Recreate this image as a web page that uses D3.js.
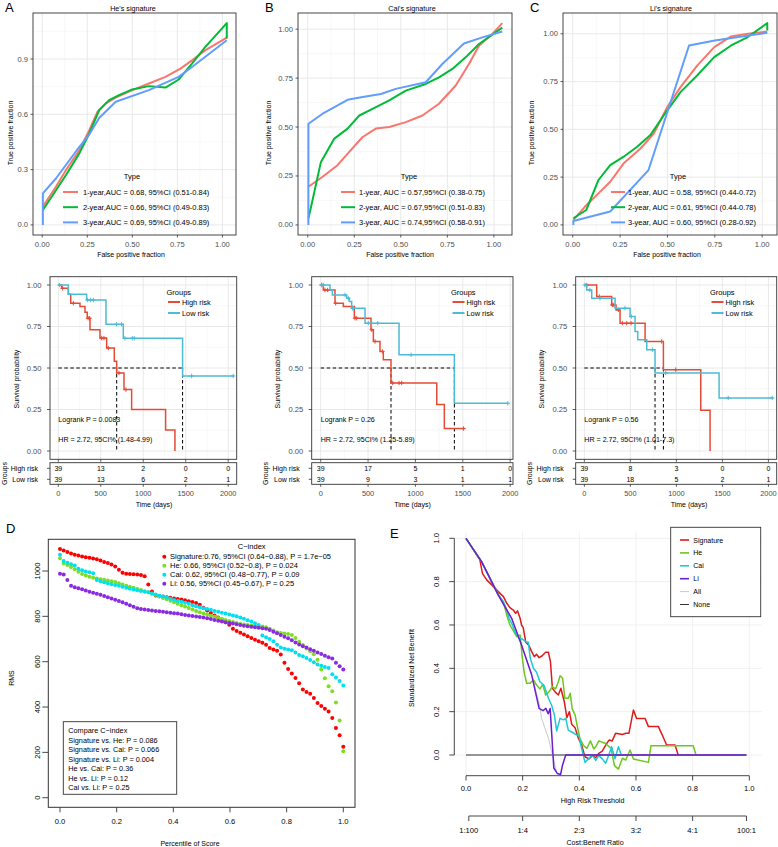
<!DOCTYPE html>
<html><head><meta charset="utf-8">
<script src="https://cdn.jsdelivr.net/npm/d3@7/dist/d3.min.js"></script>
<style>
html,body{margin:0;padding:0;background:#fff;}
svg text{font-family:"Liberation Sans",Arial,Helvetica,sans-serif;}
</style></head><body>
<svg id="fig" width="778" height="847" xmlns="http://www.w3.org/2000/svg"></svg>
<script>
// ================= DATA =================
// ROC (false positive fraction, true positive fraction)
const rocColors = ["#F8766D","#00BA38","#619CFF"];
const heLabels  = ["1-year,AUC = 0.68, 95%CI (0.51-0.84)","2-year,AUC = 0.66, 95%CI (0.49-0.83)","3-year,AUC = 0.69, 95%CI (0.49-0.89)"];
const caiLabels = ["1-year, AUC = 0.57,95%CI (0.38-0.75)","2-year, AUC = 0.67,95%CI (0.51-0.83)","3-year, AUC = 0.74,95%CI (0.58-0.91)"];
const liLabels  = ["1-year, AUC = 0.58, 95%CI (0.44-0.72)","2-year, AUC = 0.61, 95%CI (0.44-0.78)","3-year, AUC = 0.60, 95%CI (0.28-0.92)"];

const heROC1 = [[0.0035,0.099],[0.077,0.208],[0.132,0.298],[0.206,0.406],[0.261,0.514],[0.307,0.614],[0.353,0.659],[0.408,0.691],[0.5,0.731],[0.592,0.767],[0.684,0.803],[0.767,0.848],[0.831,0.893],[0.904,0.947],[1.024,1.016]];
const heROC2 = [[0.0035,0.081],[0.059,0.162],[0.132,0.271],[0.206,0.388],[0.261,0.496],[0.316,0.623],[0.371,0.677],[0.426,0.704],[0.5,0.735],[0.592,0.753],[0.684,0.745],[0.757,0.789],[0.831,0.875],[0.904,0.965],[1.024,1.095],[1.024,1.011]];
const heROC3 = [[0.0035,0],[0.0035,0.171],[0.077,0.253],[0.206,0.424],[0.261,0.49],[0.316,0.58],[0.408,0.668],[0.592,0.731],[0.757,0.803],[0.831,0.857],[1.024,1.002]];

const caiROC1 = [[0.0036,0.195],[0.08,0.246],[0.16,0.305],[0.223,0.373],[0.295,0.449],[0.366,0.492],[0.438,0.5],[0.527,0.525],[0.616,0.559],[0.705,0.619],[0.795,0.712],[0.866,0.822],[0.92,0.915],[0.991,0.975],[1.045,1.031]];
const caiROC2 = [[0.0036,0.034],[0.018,0.093],[0.071,0.322],[0.143,0.441],[0.214,0.492],[0.277,0.559],[0.348,0.593],[0.438,0.636],[0.527,0.686],[0.634,0.72],[0.705,0.754],[0.777,0.797],[0.848,0.856],[0.92,0.924],[1.045,1.008]];
const caiROC3 = [[0.0036,0],[0.0036,0.517],[0.08,0.568],[0.214,0.639],[0.295,0.653],[0.393,0.669],[0.473,0.695],[0.634,0.729],[0.723,0.822],[0.839,0.927],[0.938,0.958],[1.045,0.988]];

const liROC1 = [[0.0035,0.026],[0.065,0.096],[0.136,0.165],[0.198,0.226],[0.269,0.322],[0.358,0.4],[0.428,0.478],[0.499,0.617],[0.57,0.722],[0.658,0.835],[0.747,0.93],[0.836,0.986],[0.924,1.0],[1.027,1.012]];
const liROC2 = [[0.0035,0.035],[0.0715,0.078],[0.136,0.235],[0.198,0.313],[0.269,0.357],[0.34,0.409],[0.41,0.47],[0.481,0.574],[0.57,0.696],[0.658,0.783],[0.747,0.878],[0.836,0.939],[0.924,0.983],[1.027,1.056],[1.027,1.017]];
const liROC3 = [[0.0035,0],[0.0035,0.02],[0.198,0.07],[0.40,0.287],[0.614,0.939],[0.75,0.965],[1.027,1.005]];

// Kaplan-Meier: event times (days) and survival after each step
const kmColors = {high:"#E64B35", low:"#4DBBD5"};
const kmA_highT = [0,39,118,146,255,314,341,373,490,569,659,687,773,863,1263,1373];
const kmA_highS = [1,0.98,0.944,0.89,0.87,0.836,0.80,0.73,0.68,0.62,0.54,0.47,0.37,0.25,0.127,0];
const kmA_highCens = [51,177,350,368,510,537,588,714,796];
const kmA_lowT = [0,118,333,561,765,1463];
const kmA_lowS = [1,0.944,0.91,0.763,0.679,0.452];
const kmA_lowCens = [15,345,380,412,686,745,784,871,894,1569,2059];
const kmA_end = [1373,2070];

const kmB_highT = [0,28,151,239,355,531,556,626,661,742,1225,1305];
const kmB_highS = [1,0.97,0.89,0.87,0.80,0.73,0.66,0.60,0.55,0.41,0.28,0.135];
const kmB_highCens = [10,45,73,158,362,380,540,574,651,760,827,855,1507];
const kmB_lowT = [0,98,123,274,302,327,468,827,1411];
const kmB_lowS = [1,0.97,0.94,0.92,0.90,0.86,0.77,0.58,0.287];
const kmB_lowCens = [11,28,257,292,335,345,503,538,602,954,1975];
const kmB_end = [1524,1981];

const kmC_highT = [0,134,297,344,388,660,859,1265,1366];
const kmC_highS = [1,0.93,0.88,0.85,0.77,0.66,0.49,0.245,0];
const kmC_highCens = [26,163,304,320,370,413,460,507,840,993];
const kmC_lowT = [0,26,80,334,497,551,580,678,768,1464];
const kmC_lowS = [1,0.97,0.92,0.86,0.81,0.72,0.67,0.61,0.47,0.32];
const kmC_lowCens = [7,60,170,442,510,739,884,1563,2041];
const kmC_end = [1366,2054];

const riskTimes = [0,500,1000,1500,2000];
const riskA_high = [39,13,2,0,0], riskA_low = [39,13,6,2,1];
const riskB_high = [39,17,5,1,0], riskB_low = [39,9,3,1,1];
const riskC_high = [39,8,3,0,0],  riskC_low = [39,18,5,2,1];

// C-index RMS curves (ordered by percentile of score)
const cSeriesNames = ["Signature","He","Cai","Li"];
const cColors = ["#FF0000","#7FDD22","#00E0F0","#8A2BE2"];
const cLegend = ["Signature:0.76, 95%CI (0.64\u22120.88), P = 1.7e\u221205","He: 0.66, 95%CI (0.52\u22120.8), P = 0.024","Cai: 0.62, 95%CI (0.48\u22120.77), P = 0.09","Li: 0.56, 95%CI (0.45\u22120.67), P = 0.25"];
const compareLines = ["Compare C\u2212index","Signature vs. He: P = 0.086","Signature vs. Cai: P = 0.066","Signature vs. Li: P = 0.004","He vs. Cai: P = 0.36","He vs. Li: P = 0.12","Cai vs. Li: P = 0.25"];
const sigRMS = [1097,1090,1084,1077,1072,1068,1064,1061,1058,1055,1052,1046,1040,1035,1029,1020,1005,992,988,987,986,985,982,977,940,910,892,889,887,884,882,879,877,874,871,867,863,859,851,838,826,815,804,795,784,774,763,745,735,728,720,712,705,697,690,684,675,660,654,648,632,595,568,548,528,505,477,466,458,440,418,404,392,380,352,308,276,225];
const heRMS  = [1056,1033,1027,1018,1008,997,987,980,975,970,967,964,961,958,955,951,946,941,935,930,926,921,916,911,906,900,894,888,881,875,869,862,856,849,843,837,830,824,818,813,808,803,798,793,789,784,779,775,771,767,764,762,760,758,756,755,752,745,737,730,726,724,722,718,705,688,674,658,646,633,608,565,527,492,470,420,340,205];
const caiRMS = [1072,1044,1036,1030,1024,1010,1003,998,994,990,960,955,950,946,942,938,935,931,926,922,918,915,912,909,906,901,896,891,887,883,878,872,868,864,860,855,849,844,840,836,832,829,824,820,816,812,808,804,800,795,789,783,777,770,762,715,708,700,690,675,662,657,654,650,640,630,624,616,607,598,588,582,577,572,545,530,515,495];
const liRMS  = [988,985,960,935,928,924,919,914,909,904,900,895,890,884,879,873,868,862,855,849,842,836,832,830,828,826,824,822,820,818,816,814,812,809,806,804,802,799,797,795,792,788,784,780,777,774,771,768,765,762,759,756,754,752,750,748,745,740,732,725,718,710,703,695,685,676,668,662,655,648,641,634,626,619,614,595,580,565];

// Decision curve (threshold, standardized net benefit)
const dcaNames = ["Signature","He","Cai","Li","All","None"];
const dcaColors = ["#DD1C1C","#6CC61F","#1FC8D6","#6A1ECF","#BBBBBB","#333333"];
const dcaSig = [[0,1.0],[0.049,0.9],[0.058,0.838],[0.073,0.808],[0.091,0.785],[0.114,0.754],[0.132,0.731],[0.144,0.7],[0.155,0.68],[0.167,0.669],[0.175,0.654],[0.182,0.665],[0.191,0.631],[0.196,0.6],[0.202,0.588],[0.211,0.52],[0.222,0.505],[0.232,0.477],[0.241,0.454],[0.249,0.465],[0.258,0.449],[0.269,0.458],[0.281,0.474],[0.291,0.474],[0.298,0.431],[0.305,0.308],[0.316,0.289],[0.326,0.277],[0.335,0.308],[0.347,0.246],[0.356,0.172],[0.365,0.2],[0.373,0.142],[0.385,0.126],[0.396,0.08],[0.408,0.046],[0.42,-0.008],[0.434,-0.018],[0.446,-0.003],[0.458,-0.012],[0.469,0.008],[0.481,0.018],[0.493,0.046],[0.505,0.069],[0.516,0.065],[0.528,0.1],[0.552,0.095],[0.564,0.1],[0.575,0.1],[0.591,0.208],[0.602,0.169],[0.632,0.169],[0.644,0.131],[0.679,0.131],[0.693,0.092],[0.708,0.046],[0.738,0.046],[0.749,0]];
const dcaHe = [[0,1.0],[0.055,0.892],[0.114,0.742],[0.135,0.69],[0.145,0.64],[0.155,0.6],[0.179,0.546],[0.191,0.554],[0.199,0.446],[0.206,0.377],[0.214,0.331],[0.226,0.331],[0.238,0.346],[0.249,0.323],[0.261,0.305],[0.271,0.326],[0.281,0.277],[0.293,0.292],[0.305,0.315],[0.316,0.305],[0.326,0.338],[0.332,0.366],[0.341,0.354],[0.349,0.262],[0.361,0.262],[0.368,0.285],[0.375,0.212],[0.385,0.185],[0.392,0.138],[0.402,0.077],[0.415,0.043],[0.427,0.031],[0.439,0.065],[0.451,0.028],[0.46,0.043],[0.469,0.065],[0.491,0.054],[0.512,0.031],[0.524,-0.049],[0.538,-0.065],[0.552,-0.015],[0.564,-0.023],[0.579,0.023],[0.591,-0.018],[0.644,-0.034],[0.653,0.043],[0.802,0.043],[0.812,0]];
const dcaCai = [[0,1.0],[0.055,0.892],[0.114,0.738],[0.132,0.708],[0.144,0.669],[0.152,0.631],[0.164,0.6],[0.175,0.562],[0.187,0.538],[0.199,0.535],[0.211,0.523],[0.22,0.52],[0.227,0.446],[0.238,0.4],[0.249,0.382],[0.261,0.338],[0.276,0.32],[0.291,0.262],[0.302,0.231],[0.312,0.185],[0.32,0.111],[0.332,0.169],[0.344,0.162],[0.352,0.169],[0.361,0.115],[0.375,0.105],[0.387,0.095],[0.399,0.089],[0.408,0.031],[0.42,-0.034],[0.434,-0.015],[0.446,0],[0.458,-0.025],[0.469,-0.003],[0.481,-0.018],[0.493,-0.038],[0.505,0.003],[0.514,0.038],[0.526,-0.018],[0.538,0.038],[0.549,-0.003]];
const dcaLi = [[0,1.0],[0.055,0.892],[0.114,0.738],[0.161,0.631],[0.196,0.508],[0.232,0.369],[0.258,0.215],[0.272,0.205],[0.282,0.215],[0.29,0.19],[0.297,0.215],[0.31,-0.06],[0.322,-0.085],[0.334,-0.09],[0.34,-0.05],[0.352,0],[0.99,0]];
const dcaAll = [[0,1.0],[0.055,0.892],[0.114,0.738],[0.161,0.631],[0.196,0.508],[0.232,0.369],[0.258,0.24],[0.267,0.169],[0.291,0.077],[0.308,-0.015],[0.32,-0.08]];
const dcaNone = [[0,0],[0.99,0]];
const cbThresholds = [0.0099,0.2,0.4,0.6,0.8,0.99];
const cbLabels = ["1:100","1:4","2:3","3:2","4:1","100:1"];

// ================= DRAWING =================
const svg = d3.select("#fig");
svg.append("rect").attr("width",778).attr("height",847).attr("fill","#fff");

function T(g,x,y,s,o={}){
  const t=g.append("text").attr("x",x).attr("y",y).text(s)
    .attr("font-size",o.size||7).attr("fill",o.fill||"#000")
    .attr("text-anchor",o.anchor||"start")
    .attr("dominant-baseline",o.base||"central");
  if(o.rot) t.attr("transform",`rotate(${o.rot},${x},${y})`);
  return t;
}
function L(g,x1,y1,x2,y2,c,w,dash){
  const l=g.append("line").attr("x1",x1).attr("y1",y1).attr("x2",x2).attr("y2",y2)
   .attr("stroke",c).attr("stroke-width",w);
  if(dash) l.attr("stroke-dasharray",dash);
  return l;
}

// panel letters
[["A",5,11.5],["B",265,11.5],["C",530,11.5],["D",6,533],["E",390,538]].forEach(d=>{
  T(svg,d[1],d[2],d[0],{size:13,base:"auto"});
});

// ---------- ROC panels ----------
function rocPanel(c){
  const g=svg.append("g");
  const x=d3.scaleLinear().domain([-0.05*c.xMax,1.05*c.xMax]).range([c.left,c.right]);
  const y=d3.scaleLinear().domain([-0.05*c.yMax,1.05*c.yMax]).range([c.bottom,c.top]);
  const xt=[0,0.25,0.5,0.75,1];
  const xm=[0.125,0.375,0.625,0.875];
  const st=c.yTicks[1]-c.yTicks[0];
  const ym=c.yTicks.map(v=>v+st/2).filter(v=>v<y.domain()[1]);
  xm.forEach(v=>L(g,x(v),c.top,x(v),c.bottom,"#F3F3F3",0.6));
  ym.forEach(v=>L(g,c.left,y(v),c.right,y(v),"#F3F3F3",0.6));
  xt.forEach(v=>L(g,x(v),c.top,x(v),c.bottom,"#E6E6E6",0.9));
  c.yTicks.forEach(v=>L(g,c.left,y(v),c.right,y(v),"#E6E6E6",0.9));
  const line=d3.line().x(d=>x(d[0])).y(d=>y(d[1]));
  c.series.forEach((s,i)=>{
    g.append("path").attr("d",line(s)).attr("fill","none").attr("stroke",rocColors[i])
     .attr("stroke-width",2).attr("stroke-linejoin","round");
  });
  g.append("rect").attr("x",c.left).attr("y",c.top).attr("width",c.right-c.left).attr("height",c.bottom-c.top)
   .attr("fill","none").attr("stroke","#333").attr("stroke-width",0.9);
  // ticks
  xt.forEach(v=>{L(g,x(v),c.bottom,x(v),c.bottom+2.5,"#333",0.8);
    T(g,x(v),c.bottom+9,d3.format(".2f")(v),{size:7.6,fill:"#4D4D4D",anchor:"middle"});});
  c.yTicks.forEach(v=>{L(g,c.left-2.5,y(v),c.left,y(v),"#333",0.8);
    T(g,c.left-5,y(v),d3.format(c.yFmt)(v),{size:7.6,fill:"#4D4D4D",anchor:"end"});});
  T(g,c.titleX,8,c.title,{size:7.2,anchor:"middle"});
  T(g,c.xlabX,254,"False positive fraction",{size:7,anchor:"middle"});
  T(g,c.ylabX,133,"True positive fraction",{size:7,anchor:"middle",rot:-90});
  // legend
  T(g,c.legTitleX,176,"Type",{size:7.5,anchor:"middle"});
  c.labels.forEach((lab,i)=>{
    const yy=192+i*15.2;
    L(g,c.keyX[0],yy,c.keyX[1],yy,rocColors[i],2);
    T(g,c.textX,yy,lab,{size:7.45});
  });
}
rocPanel({left:33,right:236,top:13,bottom:235,xMax:1.024,yMax:1.095,yTicks:[0,0.3,0.6,0.9],yFmt:".1f",
  series:[heROC1,heROC2,heROC3],labels:heLabels,title:"He's signature",titleX:133,xlabX:131,ylabX:10,
  legTitleX:132,keyX:[63,78],textX:83});
rocPanel({left:298,right:512,top:13,bottom:235,xMax:1.045,yMax:1.031,yTicks:[0,0.25,0.5,0.75,1],yFmt:".2f",
  series:[caiROC1,caiROC2,caiROC3],labels:caiLabels,title:"Cai's signature",titleX:412,xlabX:400,ylabX:268,
  legTitleX:409,keyX:[341,355],textX:359});
rocPanel({left:563,right:777,top:13,bottom:235,xMax:1.027,yMax:1.056,yTicks:[0,0.25,0.5,0.75,1],yFmt:".2f",
  series:[liROC1,liROC2,liROC3],labels:liLabels,title:"Li's signature",titleX:671,xlabX:667,ylabX:531,
  legTitleX:678,keyX:[611,625],textX:628});

// ---------- KM panels ----------
function kmPanel(c){
  const g=svg.append("g");
  const top=276.7,bottom=459.3,tTop=462.7,tBot=484.3;
  const x=d3.scaleLinear().domain(c.xDom).range([c.left,c.right]);
  const y=d3.scaleLinear().domain([-0.05,1.05]).range([bottom,top]);
  const xt=riskTimes, yt=[0,0.25,0.5,0.75,1];
  [250,750,1250,1750].forEach(v=>L(g,x(v),top,x(v),bottom,"#F3F3F3",0.6));
  [0.125,0.375,0.625,0.875].forEach(v=>L(g,c.left,y(v),c.right,y(v),"#F3F3F3",0.6));
  xt.forEach(v=>L(g,x(v),top,x(v),bottom,"#E6E6E6",0.9));
  yt.forEach(v=>L(g,c.left,y(v),c.right,y(v),"#E6E6E6",0.9));
  const line=d3.line().x(d=>x(d[0])).y(d=>y(d[1])).curve(d3.curveStepAfter);
  const groups=[{k:"high",T:c.highT,S:c.highS,C:c.highC,end:c.end[0]},{k:"low",T:c.lowT,S:c.lowS,C:c.lowC,end:c.end[1]}];
  const sAt=(gr,t)=>{let s=1;gr.T.forEach((tt,i)=>{if(tt<=t)s=gr.S[i];});return s;};
  const meds=groups.map(gr=>{const i=gr.S.findIndex(s=>s<=0.5);return gr.T[i];});
  // median lines
  L(g,x(0),y(0.5),x(d3.max(meds)),y(0.5),"#000",1,"3.5,2.5");
  meds.forEach(m=>L(g,x(m),y(0.5),x(m),y(0),"#000",1,"3.5,2.5"));
  groups.forEach(gr=>{
    const pts=gr.T.map((t,i)=>[t,gr.S[i]]).concat([[gr.end,gr.S[gr.S.length-1]]]);
    g.append("path").attr("d",line(pts)).attr("fill","none").attr("stroke",kmColors[gr.k]).attr("stroke-width",1.5);
    gr.C.forEach(t=>{const s=sAt(gr,t);
      L(g,x(t)-2.2,y(s),x(t)+2.2,y(s),kmColors[gr.k],1);
      L(g,x(t),y(s)-2.2,x(t),y(s)+2.2,kmColors[gr.k],1);});
  });
  g.append("rect").attr("x",c.left).attr("y",top).attr("width",c.right-c.left).attr("height",bottom-top)
   .attr("fill","none").attr("stroke","#333").attr("stroke-width",0.9);
  yt.forEach(v=>{L(g,c.left-3,y(v),c.left,y(v),"#333",0.8);
    T(g,c.left-8.5,y(v),d3.format(".2f")(v),{size:7.6,fill:"#4D4D4D",anchor:"end"});});
  xt.forEach(v=>L(g,x(v),bottom,x(v),bottom+2.5,"#333",0.8));
  T(g,c.left-34,379,"Survival probability",{size:7,anchor:"middle",rot:-90});
  // legend
  T(g,c.legX,292,"Groups",{size:7.5});
  [["high","High risk",302],["low","Low risk",313]].forEach(d=>{
    L(g,c.legX+1.5,d[2],c.legX+13.5,d[2],kmColors[d[0]],2);
    T(g,c.legX+15.5,d[2],d[1],{size:7.4});
  });
  T(g,x(0),420,c.logrank,{size:7.1});
  T(g,x(0),440,c.hr,{size:7.1});
  // risk table
  xt.forEach(v=>L(g,x(v),tTop,x(v),tBot,"#EEEEEE",0.8));
  g.append("rect").attr("x",c.left).attr("y",tTop).attr("width",c.right-c.left).attr("height",tBot-tTop)
   .attr("fill","none").attr("stroke","#333").attr("stroke-width",0.9);
  [["High risk",468.3,c.rHigh],["Low risk",479.3,c.rLow]].forEach(r=>{
    L(g,c.left-3,r[1],c.left,r[1],"#333",0.8);
    T(g,c.left-12,r[1],r[0],{size:7,anchor:"end"});
    r[2].forEach((n,i)=>T(g,x(riskTimes[i]),r[1],n,{size:7,anchor:"middle"}));
  });
  xt.forEach(v=>{L(g,x(v),tBot,x(v),tBot+2.5,"#333",0.8);
    T(g,x(v),493,v,{size:7.4,fill:"#4D4D4D",anchor:"middle"});});
  T(g,c.left-46,473.5,"Groups",{size:7,anchor:"middle",rot:-90});
  T(g,c.timeX,504,"Time (days)",{size:7,anchor:"middle"});
}
kmPanel({left:50,right:236.7,xDom:[-98,2100],highT:kmA_highT,highS:kmA_highS,highC:kmA_highCens,
  lowT:kmA_lowT,lowS:kmA_lowS,lowC:kmA_lowCens,end:kmA_end,legX:166.5,
  logrank:"Logrank P = 0.0083",hr:"HR = 2.72, 95CI% (1.48-4.99)",rHigh:riskA_high,rLow:riskA_low,timeX:154});
kmPanel({left:311.7,right:513,xDom:[-95,2030],highT:kmB_highT,highS:kmB_highS,highC:kmB_highCens,
  lowT:kmB_lowT,lowS:kmB_lowS,lowC:kmB_lowCens,end:kmB_end,legX:451,
  logrank:"Logrank P = 0.26",hr:"HR = 2.72, 95CI% (1.25-5.89)",rHigh:riskB_high,rLow:riskB_low,timeX:412.5});
kmPanel({left:575.7,right:776.7,xDom:[-94,2090],highT:kmC_highT,highS:kmC_highS,highC:kmC_highCens,
  lowT:kmC_lowT,lowS:kmC_lowS,lowC:kmC_lowCens,end:kmC_end,legX:710,
  logrank:"Logrank P = 0.56",hr:"HR = 2.72, 95CI% (1.01-7.3)",rHigh:riskC_high,rLow:riskC_low,timeX:689});

// ---------- Panel D ----------
(function(){
  const g=svg.append("g");
  const bx0=48.3,bx1=355,by0=539.3,by1=807.3;
  const x=d3.scaleLinear().domain([0,1]).range([60,343.3]);
  const y=d3.scaleLinear().domain([0,1000]).range([797.7,571]);
  const series=[sigRMS,heRMS,caiRMS,liRMS];
  series.forEach((arr,si)=>{
    const n=arr.length;
    g.selectAll(null).data(arr).enter().append("circle")
     .attr("cx",(d,i)=>x(i/(n-1))).attr("cy",d=>y(d)).attr("r",2).attr("fill",cColors[si]);
  });
  g.append("rect").attr("x",bx0).attr("y",by0).attr("width",bx1-bx0).attr("height",by1-by0)
   .attr("fill","none").attr("stroke","#333").attr("stroke-width",1);
  [0,0.2,0.4,0.6,0.8,1].forEach(v=>{L(g,x(v),by1,x(v),by1+5,"#333",0.9);
    T(g,x(v),821,d3.format(".1f")(v),{size:7.6,anchor:"middle"});});
  [0,200,400,600,800,1000].forEach(v=>{L(g,bx0-6,y(v),bx0,y(v),"#333",0.9);
    T(g,37.7,y(v),v,{size:7.6,anchor:"middle",rot:-90});});
  T(g,190,843,"Percentile of Score",{size:7,anchor:"middle"});
  T(g,11.7,678,"RMS",{size:7,anchor:"middle",rot:-90});
  T(g,251.7,546,"C\u2212index",{size:7.5,anchor:"middle"});
  cLegend.forEach((s,i)=>{
    const yy=556.7+i*9;
    g.append("circle").attr("cx",164.3).attr("cy",yy).attr("r",2).attr("fill",cColors[i]);
    T(g,170,yy,s,{size:7.5});
  });
  g.append("rect").attr("x",63.3).attr("y",721.7).attr("width",113.4).attr("height",72.6)
   .attr("fill","#fff").attr("stroke","#333").attr("stroke-width",0.9);
  compareLines.forEach((s,i)=>T(g,68.3,730.8+i*9.5,s,{size:7.3}));
})();

// ---------- Panel E ----------
(function(){
  const g=svg.append("g");
  const x=d3.scaleLinear().domain([0,1]).range([466,749.3]);
  const y=d3.scaleLinear().domain([0,1]).range([755,538.3]);
  const gx=[0,0.2,0.4,0.6,0.8,1], gy=[0,0.2,0.4,0.6,0.8,1];
  gx.forEach(v=>L(g,x(v),531.7,x(v),775,"#EEEEEE",0.9));
  gy.forEach(v=>L(g,455,y(v),761.7,y(v),"#EEEEEE",0.9));
  const line=d3.line().x(d=>x(d[0])).y(d=>y(d[1]));
  const curves=[[dcaNone,5,1],[dcaAll,4,0.8],[dcaSig,0,1.5],[dcaHe,1,1.5],[dcaCai,2,1.5],[dcaLi,3,1.5]];
  curves.forEach(cv=>g.append("path").attr("d",line(cv[0])).attr("fill","none")
    .attr("stroke",dcaColors[cv[1]]).attr("stroke-width",cv[2]).attr("stroke-linejoin","round"));
  // axes
  L(g,454.3,y(0),454.3,y(1),"#333",0.9);
  gy.forEach(v=>{L(g,449.3,y(v),454.3,y(v),"#333",0.9);
    T(g,436.7,y(v),d3.format(".1f")(v),{size:7.6,anchor:"middle",rot:-90});});
  L(g,x(0),775.7,x(1),775.7,"#333",0.9);
  gx.forEach(v=>{L(g,x(v),775.7,x(v),780.5,"#333",0.9);
    T(g,x(v),788.5,d3.format(".1f")(v),{size:7.6,anchor:"middle"});});
  T(g,592.5,801,"High Risk Threshold",{size:7.1,anchor:"middle"});
  L(g,x(cbThresholds[0]),816,x(cbThresholds[cbThresholds.length-1]),816,"#333",0.9);
  cbThresholds.forEach((v,i)=>{L(g,x(v),816,x(v),821,"#333",0.9);
    T(g,x(v),830,cbLabels[i],{size:7.6,anchor:"middle"});});
  T(g,595,843,"Cost:Benefit Ratio",{size:7.1,anchor:"middle"});
  T(g,411.7,668,"Standardized Net Benefit",{size:7,anchor:"middle",rot:-90});
  // legend
  g.append("rect").attr("x",670.7).attr("y",527.3).attr("width",90).attr("height",89.4)
   .attr("fill","#fff").attr("stroke","#333").attr("stroke-width",0.9);
  dcaNames.forEach((nm,i)=>{
    const yy=540+i*12.9;
    L(g,680,yy,689,yy,dcaColors[i],i==4?0.8:(i==5?1:1.6));
    T(g,693.3,yy,nm,{size:7});
  });
})();
</script></body></html>
